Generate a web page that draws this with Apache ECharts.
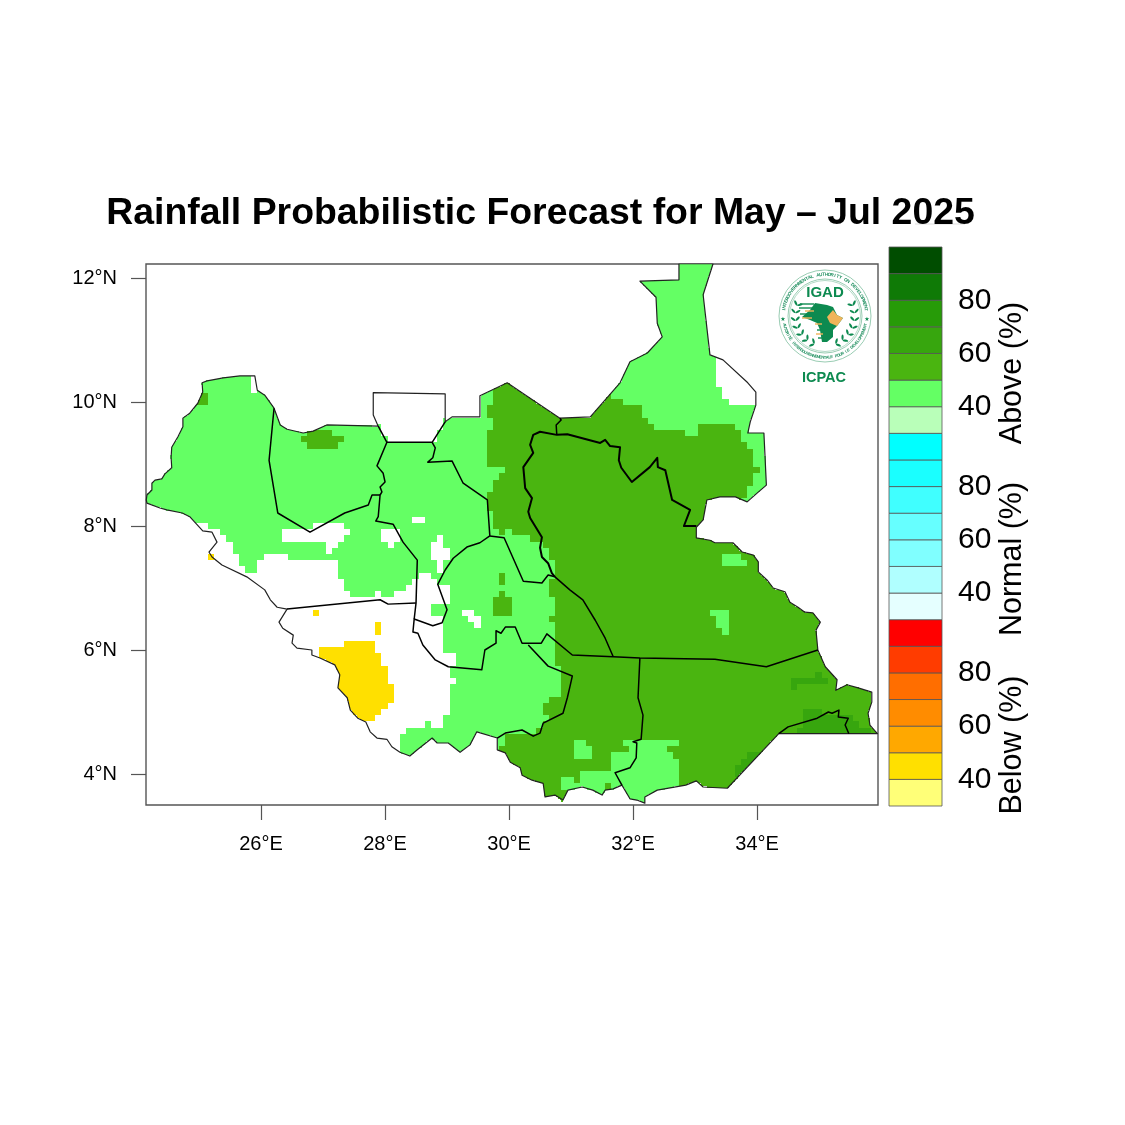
<!DOCTYPE html>
<html>
<head>
<meta charset="utf-8">
<title>Rainfall Probabilistic Forecast</title>
<script src="https://cdn.jsdelivr.net/npm/echarts@6/dist/echarts.min.js"></script>
<style>html,body{margin:0;background:#fff}#chart{width:1125px;height:1125px}</style>
</head>
<body>
<div id="chart"></div>
<script>
// axis ticks
const lonTicks = [26, 28, 30, 32, 34];
const latTicks = [4, 6, 8, 10, 12];

// colour bar, bottom to top
const barColors = ['#ffff78', '#ffe000', '#ffa800', '#ff8c00', '#ff6e00', '#ff3c00', '#ff0000',
    '#e5ffff', '#b0ffff', '#80ffff', '#66ffff', '#40ffff', '#1affff', '#00ffff',
    '#b9ffb9', '#64ff64', '#4ab510', '#37a60e', '#279b08', '#0f7a06', '#004d00'];
const barLabelSteps = [1, 3, 5, 8, 10, 12, 15, 17, 19];
const barLabels = ['40', '60', '80', '40', '60', '80', '40', '60', '80'];
const barTickSteps = [1, 8, 15];

// country border, lon/lat
const outline = [[24.15,8.42],[24.16,8.50],[24.24,8.58],[24.24,8.69],[24.29,8.74],[24.40,8.76],[24.45,8.84],[24.56,8.94],[24.55,9.11],[24.56,9.27],[24.66,9.44],[24.74,9.60],[24.74,9.74],[24.85,9.82],[24.98,9.98],[25.06,10.16],[25.05,10.31],[25.13,10.34],[25.39,10.39],[25.66,10.42],[25.90,10.42],[25.94,10.19],[26.06,10.11],[26.21,9.90],[26.31,9.63],[26.42,9.56],[26.68,9.50],[26.84,9.53],[27.06,9.63],[27.89,9.61],[27.81,9.79],[27.81,10.15],[28.97,10.13],[28.97,9.68],[29.08,9.76],[29.53,9.76],[29.53,10.10],[29.97,10.31],[30.34,10.06],[30.82,9.74],[31.31,9.76],[31.79,10.31],[31.95,10.65],[32.23,10.79],[32.47,11.05],[32.39,11.27],[32.37,11.69],[32.11,11.95],[32.74,11.97],[32.74,12.23],[33.29,12.23],[33.13,11.73],[33.24,10.76],[33.45,10.68],[33.85,10.31],[33.98,10.16],[33.98,9.95],[33.89,9.68],[33.85,9.50],[34.11,9.50],[34.15,8.66],[34.00,8.53],[33.84,8.39],[33.65,8.47],[33.40,8.47],[33.19,8.42],[33.16,8.26],[33.13,8.10],[33.02,7.98],[33.02,7.81],[33.24,7.77],[33.32,7.73],[33.61,7.73],[33.76,7.58],[33.94,7.53],[34.02,7.42],[34.02,7.26],[34.16,7.13],[34.26,7.00],[34.45,6.94],[34.53,6.77],[34.66,6.69],[34.77,6.61],[34.90,6.60],[35.02,6.45],[34.95,6.32],[34.97,6.11],[34.98,6.00],[35.10,5.73],[35.29,5.52],[35.27,5.35],[35.45,5.44],[35.63,5.39],[35.85,5.32],[35.85,5.16],[35.79,4.98],[35.82,4.79],[35.94,4.65],[34.35,4.65],[33.52,3.77],[33.13,3.79],[33.02,3.89],[32.85,3.82],[32.39,3.74],[32.19,3.63],[32.19,3.53],[32.06,3.58],[31.95,3.60],[31.82,3.82],[31.68,3.76],[31.55,3.74],[31.50,3.66],[31.35,3.74],[31.18,3.79],[30.95,3.74],[30.87,3.58],[30.85,3.55],[30.74,3.66],[30.58,3.63],[30.55,3.85],[30.37,3.90],[30.21,3.98],[30.18,4.10],[30.02,4.19],[29.94,4.34],[29.81,4.39],[29.81,4.58],[29.48,4.68],[29.37,4.47],[29.21,4.35],[29.02,4.50],[28.84,4.50],[28.76,4.58],[28.52,4.39],[28.40,4.29],[28.24,4.35],[28.11,4.44],[28.03,4.56],[27.87,4.58],[27.76,4.68],[27.69,4.84],[27.56,4.90],[27.44,5.03],[27.39,5.23],[27.24,5.39],[27.27,5.60],[27.19,5.76],[26.95,5.87],[26.82,5.92],[26.82,6.00],[26.58,6.03],[26.50,6.11],[26.52,6.24],[26.35,6.35],[26.29,6.45],[26.42,6.66],[26.26,6.69],[26.15,6.81],[26.06,6.97],[25.77,7.18],[25.37,7.37],[25.21,7.50],[25.16,7.58],[25.29,7.74],[25.21,7.90],[25.06,7.92],[24.85,8.15],[24.73,8.21],[24.48,8.26],[24.37,8.29],[24.16,8.37],[24.15,8.42]];

// state borders
const stateBorders = [
    [[26.21,9.90],[26.13,9.06],[26.27,8.21],[26.79,7.90],[27.35,8.21],[27.73,8.34],[27.79,8.50],[27.92,8.50]],
    [[27.89,9.61],[28.03,9.35],[27.87,8.97],[27.97,8.85],[28.00,8.71],[27.92,8.63],[27.95,8.55],[27.92,8.50],[27.89,8.15],[27.85,8.08],[28.13,8.03],[28.29,7.74],[28.52,7.45],[28.50,6.76],[28.47,6.50]],
    [[26.42,6.66],[27.92,6.81],[28.05,6.74],[28.50,6.76]],
    [[28.97,9.68],[28.76,9.35],[28.03,9.35]],
    [[28.76,9.35],[28.81,9.26],[28.77,9.10],[28.69,9.03],[29.08,9.05],[29.26,8.69],[29.65,8.42],[29.69,7.84]],
    [[29.69,7.84],[29.92,7.81],[30.23,7.11],[30.53,7.08],[30.63,7.21],[30.74,7.18],[30.98,6.97],[31.19,6.81],[31.39,6.48],[31.55,6.19],[31.68,5.89]],
    [[29.69,7.84],[29.53,7.73],[29.32,7.66],[29.10,7.48],[28.97,7.29],[28.85,7.06],[29.00,6.65],[28.92,6.44],[28.77,6.39],[28.47,6.50],[28.45,6.29],[28.53,6.27],[28.61,6.08],[28.81,5.84],[29.02,5.73],[29.56,5.68],[29.61,6.00],[29.79,6.11],[29.79,6.31],[29.87,6.27],[29.94,6.37],[30.10,6.37],[30.21,6.11],[30.52,6.11],[30.61,6.26],[31.02,5.92],[31.68,5.89],[32.11,5.87],[33.32,5.85],[34.15,5.73],[34.98,6.00]],
    [[30.31,6.08],[30.63,5.74],[31.02,5.58],[30.98,5.40],[30.94,5.23],[30.87,4.98],[30.55,4.82],[30.50,4.66],[30.39,4.61],[30.21,4.71],[29.94,4.66],[29.81,4.58]],
    [[32.11,5.87],[32.08,5.23],[32.16,4.95],[32.13,4.56],[32.00,4.52],[32.06,4.50],[32.05,4.26],[31.95,4.10],[31.71,4.02],[31.82,3.82]],
    [[30.77,9.47],[30.76,9.63],[30.84,9.71],[30.82,9.74]],
    [[34.35,4.65],[34.50,4.76],[34.97,4.90],[35.15,5.00],[35.21,4.98],[35.32,5.03],[35.31,4.92],[35.47,4.90],[35.42,4.79],[35.48,4.65]]
];
const jongleiBorder = [[30.74,7.18],[30.69,7.24],[30.63,7.40],[30.53,7.50],[30.50,7.65],[30.53,7.82],[30.34,8.13],[30.31,8.23],[30.37,8.45],[30.26,8.61],[30.23,8.95],[30.39,9.18],[30.34,9.31],[30.39,9.47],[30.50,9.52],[30.77,9.47],[30.94,9.48],[31.47,9.34],[31.55,9.39],[31.63,9.29],[31.79,9.27],[31.77,9.06],[31.81,8.94],[31.98,8.71],[32.27,8.95],[32.39,9.10],[32.40,8.95],[32.52,8.90],[32.63,8.42],[32.92,8.26],[32.82,8.00],[33.02,8.00]];

// forecast classes, as lon/lat regions on the 0.1 degree model grid
// no forecast inside the country
const blankAreas = [
    [[24.85,8.05],[25.34,7.95],[25.34,7.85],[25.44,7.85],[25.44,7.74],[25.55,7.74],[25.55,7.56],[25.65,7.56],[25.65,7.35],[25.74,7.35],[25.74,7.26],[25.94,7.26],[25.94,7.45],[26.05,7.45],[26.05,7.55],[26.45,7.55],[26.45,7.45],[27.24,7.45],[27.24,7.16],[27.34,7.16],[27.34,6.95],[27.45,6.95],[27.45,6.87],[27.84,6.87],[27.84,6.95],[27.95,6.95],[27.95,6.85],[28.15,6.85],[28.15,6.97],[28.35,6.97],[28.35,7.05],[28.45,7.05],[28.45,7.16],[28.5,7.16],[28.5,7.24],[28.73,7.24],[28.73,7.16],[28.85,7.16],[28.85,7.06],[29.03,7.06],[29.03,6.76],[28.74,6.76],[28.74,6.55],[28.95,6.55],[28.95,5.97],[29.15,5.97],[29.15,5.76],[29.03,5.76],[29.03,5.56],[29.15,5.56],[29.15,5.47],[29.03,5.47],[29.03,4.97],[28.95,4.97],[28.95,4.76],[28.74,4.76],[28.74,4.85],[28.65,4.85],[28.65,4.76],[28.35,4.76],[28.35,4.66],[28.24,4.66],[28.24,4.0],[26.6,4.0],[26.0,6.0],[24.85,7.3]],
    [[26.35,7.95],[26.79,7.95],[26.95,8.05],[27.34,8.05],[27.34,7.95],[27.45,7.95],[27.45,7.85],[27.34,7.85],[27.34,7.74],[27.24,7.74],[27.24,7.66],[27.15,7.66],[27.15,7.55],[27.05,7.55],[27.05,7.74],[26.35,7.74]],
    [[27.95,7.97],[28.24,7.97],[28.24,7.74],[28.15,7.74],[28.15,7.66],[28.05,7.66],[28.05,7.74],[27.95,7.74]],
    [[28.44,8.15],[28.65,8.15],[28.65,8.05],[28.44,8.05]],
    [[28.73,7.74],[28.84,7.74],[28.84,7.85],[28.94,7.85],[28.94,7.66],[29.03,7.66],[29.03,7.45],[28.94,7.45],[28.94,7.26],[28.84,7.26],[28.84,7.45],[28.73,7.45]],
    [[29.26,6.65],[29.42,6.65],[29.42,6.55],[29.53,6.55],[29.53,6.35],[29.45,6.35],[29.45,6.45],[29.34,6.45],[29.34,6.55],[29.26,6.55]],
    [[27.89,9.61],[27.7,9.65],[27.7,10.2],[29.0,10.2],[29.0,9.78],[28.97,9.68],[28.76,9.35],[28.03,9.35]],
    [[33.35,10.55],[33.35,10.24],[33.44,10.24],[33.44,10.05],[33.53,10.05],[33.53,9.95],[34.05,9.95],[34.05,10.35],[33.48,10.76],[33.35,10.68]],
    [[25.84,10.42],[25.95,10.42],[25.95,10.19],[25.84,10.19]]
];
// 50-55 % class
const aboveMain = [
    [[29.74,10.4],[29.74,9.95],[29.65,9.95],[29.65,9.76],[29.74,9.76],[29.74,9.55],[29.65,9.55],[29.65,8.95],[29.95,8.95],[29.95,8.85],[29.84,8.85],[29.84,8.76],[29.74,8.76],[29.74,8.55],[29.65,8.55],[29.65,8.26],[29.74,8.26],[29.74,7.95],[29.84,7.95],[29.84,7.85],[29.95,7.85],[29.95,7.95],[30.05,7.95],[30.05,7.85],[30.34,7.85],[30.34,7.75],[30.53,7.75],[30.53,7.65],[30.63,7.65],[30.63,7.45],[30.74,7.45],[30.74,5.73],[30.85,5.68],[30.85,5.24],[30.65,5.24],[30.65,5.15],[30.55,5.15],[30.55,4.97],[30.74,4.97],[30.55,4.82],[30.44,4.74],[30.39,4.61],[30.21,4.69],[29.94,4.66],[29.94,4.47],[29.82,4.47],[29.82,4.35],[29.69,4.23],[30.5,3.3],[36.2,3.3],[36.2,5],[35.4,6.5],[34.5,7.6],[33.65,8.37],[33.84,8.47],[33.84,8.65],[33.94,8.65],[33.94,8.85],[34.03,8.85],[34.03,8.95],[33.94,8.95],[33.94,9.26],[33.84,9.26],[33.84,9.35],[33.74,9.35],[33.74,9.55],[33.65,9.55],[33.65,9.65],[33.13,9.65],[33.05,9.55],[33.05,9.45],[32.84,9.45],[32.84,9.55],[32.32,9.55],[32.32,9.66],[32.24,9.66],[32.24,9.75],[32.15,9.75],[32.15,9.95],[31.82,9.95],[31.82,10.06],[31.66,10.06],[31.66,10.16],[31.53,10.16],[31.47,10.35],[30.82,10.03]]
];
// 45-50 % pockets inside the main area
const abovePockets = [
    [[31.03,4.56],[31.23,4.56],[31.23,4.45],[31.34,4.45],[31.34,4.26],[31.03,4.26]],
    [[31.84,4.56],[32.74,4.56],[32.74,4.45],[32.55,4.45],[32.55,4.35],[32.65,4.35],[32.65,4.26],[32.74,4.26],[32.74,3.4],[31.0,3.4],[30.95,3.76],[30.85,3.76],[30.85,3.95],[31.03,3.95],[31.03,3.85],[31.15,3.85],[31.15,4.05],[31.65,4.05],[31.65,4.35],[31.94,4.35],[31.94,4.45],[31.84,4.45]],
    [[33.44,7.55],[33.73,7.55],[33.73,7.45],[33.84,7.45],[33.84,7.35],[33.44,7.35]],
    [[33.24,6.65],[33.53,6.65],[33.53,6.26],[33.44,6.26],[33.44,6.35],[33.34,6.35],[33.34,6.55],[33.24,6.55]]
];
// 50-55 % spots in the lighter parts
const aboveSpots = [
    [[24.95,10.06],[25.05,10.06],[25.05,10.16],[25.15,10.16],[25.15,9.95],[24.95,9.95]],
    [[26.74,9.55],[27.15,9.55],[27.15,9.45],[27.34,9.45],[27.34,9.35],[27.24,9.35],[27.24,9.25],[26.75,9.25],[26.75,9.35],[26.65,9.35],[26.65,9.45],[26.74,9.45]],
    [[29.84,7.25],[29.95,7.25],[29.95,7.05],[29.84,7.05]],
    [[29.74,6.85],[29.84,6.85],[29.84,6.95],[29.95,6.95],[29.95,6.85],[30.05,6.85],[30.05,6.55],[29.74,6.55]],
    [[30.65,7.2],[30.74,7.2],[30.74,6.85],[30.65,6.85]],
    [[30.65,6.55],[30.74,6.55],[30.74,6.45],[30.65,6.45]],
    [[31.53,3.85],[31.65,3.85],[31.65,3.65],[31.53,3.65]]
];
// 55-60 % class
const aboveHigh = [
    [[34.53,5.55],[34.94,5.55],[34.94,5.65],[35.05,5.65],[35.05,5.56],[35.13,5.56],[35.13,5.47],[34.65,5.47],[34.65,5.35],[34.53,5.35]],
    [[34.74,5.05],[35.05,5.05],[35.05,4.95],[35.55,4.95],[35.55,4.85],[35.63,4.85],[35.63,4.75],[35.84,4.75],[35.84,4.65],[34.65,4.65],[34.65,4.75],[34.74,4.82]],
    [[33.65,4.02],[33.65,4.15],[33.76,4.15],[33.76,4.26],[33.84,4.26],[33.84,4.35],[34.05,4.35],[34.21,4.23],[33.81,3.82]]
];
// below normal, 40-45 %
const belowAreas = [
    [[26.95,6.06],[27.34,6.06],[27.34,6.15],[27.85,6.15],[27.85,5.95],[27.94,5.95],[27.94,5.76],[28.05,5.76],[28.05,5.47],[28.15,5.47],[28.15,5.16],[28.05,5.16],[28.05,5.06],[27.94,5.06],[27.94,4.97],[27.85,4.97],[27.85,4.85],[27.55,4.85],[27.35,5.03],[27.11,5.35],[27.11,5.76],[26.95,5.90]],
    [[26.84,6.65],[26.95,6.65],[26.95,6.55],[26.84,6.55]],
    [[27.85,6.45],[27.94,6.45],[27.94,6.25],[27.85,6.25]]
];
const belowBorderCell = [[25.19, 7.5]];

const classColors = {1: '#64ff64', 2: '#4ab510', 3: '#37a60e', 4: '#ffe000'};

function inPoly(lon, lat, poly) {
    let inside = false;
    for (let i = 0, j = poly.length - 1; i < poly.length; j = i++) {
        let a = poly[i], b = poly[j];
        if ((a[1] > lat) !== (b[1] > lat) && lon < (b[0] - a[0]) * (lat - a[1]) / (b[1] - a[1]) + a[0]) {
            inside = !inside;
        }
    }
    return inside;
}
function inAny(lon, lat, polys) {
    return polys.some(function (p) { return inPoly(lon, lat, p); });
}

// 0.1 degree model grid, masked to the border on quarter cells
const cells = [];
const maskSteps = [-0.0375, -0.0125, 0.0125, 0.0375];
for (let i = 0; i < 118; i++) {
    for (let j = 0; j < 87; j++) {
        let lon = +(24.19 + i * 0.1).toFixed(2), lat = +(3.6 + j * 0.1).toFixed(2);
        let cls = 1;
        if (inAny(lon, lat, blankAreas)) cls = 0;
        if (inAny(lon, lat, aboveMain)) cls = 2;
        if (inAny(lon, lat, abovePockets)) cls = 1;
        if (inAny(lon, lat, aboveSpots)) cls = 2;
        if (inAny(lon, lat, aboveHigh)) cls = 3;
        if (inAny(lon, lat, belowAreas)) cls = 4;
        if (!cls) continue;
        maskSteps.forEach(function (dx) {
            maskSteps.forEach(function (dy) {
                if (inPoly(lon + dx, lat + dy, outline)) cells.push([lon + dx, lat + dy, cls]);
            });
        });
    }
}
belowBorderCell.forEach(function (c) {
    maskSteps.forEach(function (dx) {
        maskSteps.forEach(function (dy) { cells.push([c[0] + dx, c[1] + dy, 4]); });
    });
});

function renderCell(params, api) {
    let lon = api.value(0), lat = api.value(1);
    let a = api.coord([lon - 0.0125, lat + 0.0125]), b = api.coord([lon + 0.0125, lat - 0.0125]);
    let x = Math.round(a[0]), y = Math.round(a[1]);
    return {
        type: 'rect',
        shape: {x: x, y: y, width: Math.round(b[0]) - x, height: Math.round(b[1]) - y},
        style: {fill: classColors[api.value(2)]}
    };
}
function renderBarCell(params, api) {
    let i = api.value(0);
    let a = api.coord([0, i + 1]), b = api.coord([1, i]);
    return {
        type: 'rect',
        shape: {x: a[0], y: a[1], width: b[0] - a[0], height: b[1] - a[1]},
        style: {fill: barColors[i], stroke: '#555', lineWidth: 0.8}
    };
}
function borderSeries(points, width, color) {
    return {
        type: 'line', data: points, symbol: 'none', silent: true, animation: false, z: 5,
        lineStyle: {color: color, width: width, join: 'round'}
    };
}

// logo bits
const logoX = 825, logoY = 316, logoGreen = '#0d8a50', logoOrange = '#f0b45a';
const topRing = 'INTERGOVERNMENTAL AUTHORITY ON DEVELOPMENT';
const bottomRing = 'AUTORITÉ INTERGOUVERNEMENTALE POUR LE DÉVELOPPEMENT';
function ringText(text, radius, from, to, flip, size) {
    let out = [];
    for (let k = 0; k < text.length; k++) {
        let ang = from + (to - from) * k / (text.length - 1);
        out.push({
            type: 'text', silent: true,
            x: logoX + radius * Math.sin(ang), y: logoY - radius * Math.cos(ang),
            rotation: flip ? -(ang - Math.PI) : -ang,
            style: {text: text[k], font: 'bold ' + size + 'px "Liberation Sans"', fill: '#1f8f5f', textAlign: 'center', textVerticalAlign: 'middle'}
        });
    }
    return out;
}
function laurel() {
    let out = [];
    [-1, 1].forEach(function (side) {
        for (let k = 0; k < 7; k++) {
            let ang = (1.15 + k * 0.26) * side;
            [27.5, 32].forEach(function (r, row) {
                out.push({
                    type: 'ellipse', silent: true,
                    x: logoX + r * Math.sin(ang), y: logoY - r * Math.cos(ang),
                    rotation: -ang + side * (row ? 0.7 : -0.7),
                    shape: {cx: 0, cy: 0, rx: 1.1, ry: 2.8},
                    style: {fill: logoGreen}
                });
            });
        }
    });
    return out;
}
function fingers() {
    let rows = [[800, 304, 814, logoGreen], [799, 308, 814, logoGreen], [805, 311, 814, logoOrange], [800, 314, 812, logoGreen],
        [802, 318, 812, logoOrange], [815, 324, 822, logoOrange], [817, 330, 823, logoGreen], [816, 334, 823, logoOrange], [818, 338, 824, logoGreen]];
    return rows.map(function (r) {
        return {type: 'line', silent: true, shape: {x1: r[0], y1: r[1], x2: r[2], y2: r[1]}, style: {stroke: r[3], lineWidth: 1.4}};
    });
}

const sideTitles = [
    {text: 'Above (%)', y: 373},
    {text: 'Normal (%)', y: 559},
    {text: 'Below (%)', y: 745}
];

const graphicItems = [
    {type: 'circle', silent: true, shape: {cx: logoX, cy: logoY, r: 46}, style: {fill: '#fff', stroke: '#7fbfa0', lineWidth: 0.8}},
    {type: 'circle', silent: true, shape: {cx: logoX, cy: logoY, r: 37}, style: {fill: 'none', stroke: '#7fbfa0', lineWidth: 0.8}},
    {type: 'circle', silent: true, shape: {cx: logoX, cy: logoY, r: 35.5}, style: {fill: 'none', stroke: '#7fbfa0', lineWidth: 0.6}},
    {type: 'polygon', silent: true, shape: {points: [[815,303],[827,305],[833,307],[837,315],[843,318],[837,326],[833,330],[833,337],[827,342],[822,342],[820,330],[817,323],[810,320],[802,317],[810,310]]}, style: {fill: logoGreen}},
    {type: 'polygon', silent: true, shape: {points: [[827,317],[833,310],[837,315],[843,318],[837,326],[830,323]]}, style: {fill: logoOrange}},
    {type: 'text', silent: true, x: logoX, y: 293, style: {text: 'IGAD', font: 'bold 15px "Liberation Sans"', fill: logoGreen, textAlign: 'center', textVerticalAlign: 'middle'}},
    {type: 'text', silent: true, x: 824, y: 378, style: {text: 'ICPAC', font: 'bold 14.5px "Liberation Sans"', fill: logoGreen, textAlign: 'center', textVerticalAlign: 'middle'}},
    {type: 'text', silent: true, x: 783, y: 319, style: {text: '★', font: '6px "DejaVu Sans"', fill: logoGreen, textAlign: 'center', textVerticalAlign: 'middle'}},
    {type: 'text', silent: true, x: 867, y: 319, style: {text: '★', font: '6px "DejaVu Sans"', fill: logoGreen, textAlign: 'center', textVerticalAlign: 'middle'}},
    {type: 'line', silent: true, shape: {x1: 915, y1: 224, x2: 965, y2: 224}, style: {stroke: '#ddd', lineWidth: 1}}
].concat(fingers(), laurel(), ringText(topRing, 41.5, -1.42, 1.42, false, 4.6), ringText(bottomRing, 41.5, -1.78 + Math.PI * 2, 1.78, true, 4.1));

sideTitles.forEach(function (t) {
    graphicItems.push({
        type: 'text', silent: true, x: 1013, y: t.y, rotation: Math.PI / 2,
        style: {text: t.text, font: '30.5px "Liberation Sans"', fill: '#000', textAlign: 'center', textVerticalAlign: 'middle'}
    });
});

const chart = echarts.init(document.getElementById('chart'), null, {renderer: 'canvas'});
chart.setOption({
    animation: false,
    backgroundColor: '#fff',
    title: {
        text: 'Rainfall Probabilistic Forecast for May – Jul 2025',
        left: 535.5, top: 190, textAlign: 'center',
        textStyle: {fontFamily: 'Liberation Sans', fontWeight: 'bold', fontSize: 37.4, color: '#000'}
    },
    grid: [
        {left: 146, top: 264, width: 732, height: 541, show: true, borderColor: '#555', borderWidth: 1.4, backgroundColor: '#fff'},
        {left: 889, top: 247, width: 53, height: 559}
    ],
    xAxis: [
        {
            type: 'value', min: 24.145, max: 35.95, splitLine: {show: false},
            axisLine: {show: false},
            axisTick: {show: true, length: 15, customValues: lonTicks, lineStyle: {color: '#555', width: 1.2}},
            axisLabel: {
                customValues: lonTicks, margin: 29, color: '#000', fontSize: 20, fontFamily: 'Liberation Sans',
                formatter: function (v) { return v + '°E'; }
            }
        },
        {gridIndex: 1, type: 'value', min: 0, max: 1, show: false}
    ],
    yAxis: [
        {
            type: 'value', min: 3.5, max: 12.226, splitLine: {show: false},
            axisLine: {show: false},
            axisTick: {show: true, length: 15, customValues: latTicks, lineStyle: {color: '#555', width: 1.2}},
            axisLabel: {
                customValues: latTicks, margin: 29, color: '#000', fontSize: 20, fontFamily: 'Liberation Sans',
                padding: [2, 0, 0, 0],
                formatter: function (v) { return v + '°N'; }
            }
        },
        {
            gridIndex: 1, type: 'value', min: 0, max: 21, position: 'right', splitLine: {show: false},
            axisLine: {show: false},
            axisTick: {show: true, length: 16, customValues: barTickSteps, lineStyle: {color: '#aaa'}},
            axisLabel: {
                customValues: barLabelSteps, margin: 16, color: '#000', fontSize: 30, fontFamily: 'Liberation Sans',
                padding: [8, 0, 0, 0],
                formatter: function (v) { return barLabels[barLabelSteps.indexOf(v)]; }
            }
        }
    ],
    series: [
        {type: 'custom', data: cells, renderItem: renderCell, encode: {x: 0, y: 1}, clip: true, silent: true, progressive: 0, animation: false, z: 2},
        borderSeries(outline, 1.2, '#222')
    ].concat(
        stateBorders.map(function (b) { return borderSeries(b, 1.5, '#000'); }),
        [borderSeries(jongleiBorder, 2, '#000')],
        [{
            type: 'custom', xAxisIndex: 1, yAxisIndex: 1, silent: true, animation: false,
            data: barColors.map(function (c, i) { return [i]; }),
            renderItem: renderBarCell, encode: {y: 0}
        }]
    ),
    graphic: {elements: graphicItems}
});
</script>
</body>
</html>
